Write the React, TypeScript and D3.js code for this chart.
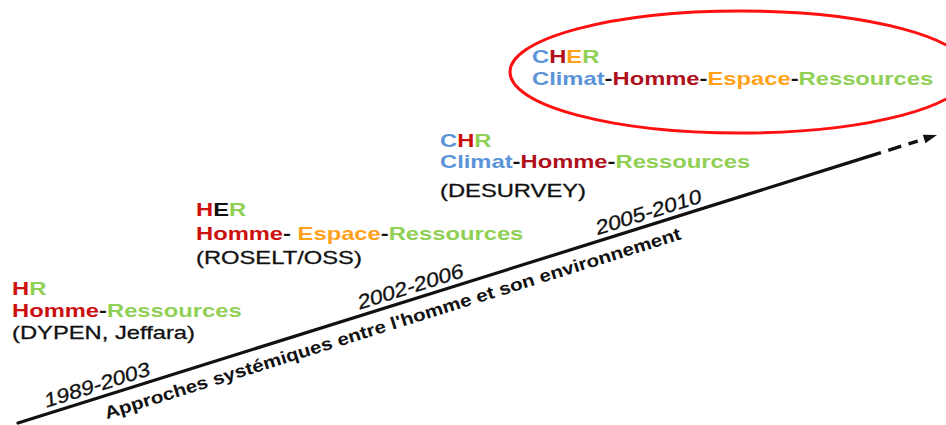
import * as d3 from "d3";

// Approaches along the time arrow
const periods = ["1989-2003", "2002-2006", "2005-2010"];
const acronyms = ["HR", "HER", "CHR", "CHER"];
const components = [
  ["Homme", "Ressources"],
  ["Homme", "Espace", "Ressources"],
  ["Climat", "Homme", "Ressources"],
  ["Climat", "Homme", "Espace", "Ressources"],
];
const separators = [["-"], ["- ", "-"], ["-", "-"], ["-", "-", "-"]];
const projects = ["(DYPEN, Jeffara)", "(ROSELT/OSS)", "(DESURVEY)", ""];
const axisLabel = "Approches systémiques entre l'homme et son environnement";

const colorOf: Record<string, string> = {
  C: "#5b93d8",
  H: "#cc1010",
  E: "#ffa21a",
  R: "#8fd055",
};
const darkRed = "#b0101c";

// layout
const W = 946;
const H = 425;
const FONT = "'Liberation Sans', Arial, sans-serif";
const start = [18, 423];
const tip = [937, 135];
const blocks = [
  { x: 12, y: 295, gaps: [22, 22] },
  { x: 196, y: 216, gaps: [24, 24] },
  { x: 440, y: 147, gaps: [21, 29] },
  { x: 532, y: 63, gaps: [22, 0] },
];
const periodT = [0.033, 0.374, 0.633];
const solidEnd = 0.925;
const dashes = [
  [0.925, 0.939],
  [0.947, 0.961],
  [0.969, 0.979],
];

export default function App() {
  const xs = d3.scaleLinear().domain([0, 1]).range([start[0], tip[0]]);
  const ys = d3.scaleLinear().domain([0, 1]).range([start[1], tip[1]]);
  const len = Math.hypot(tip[0] - start[0], tip[1] - start[1]);
  const angle = (Math.atan2(tip[1] - start[1], tip[0] - start[0]) * 180) / Math.PI;
  const nx = -(tip[1] - start[1]) / len; // normal pointing below the line
  const ny = (tip[0] - start[0]) / len;
  const line = d3
    .line<number>()
    .x((t) => xs(t))
    .y((t) => ys(t));

  const headBase = 0.986;
  const hx = xs(headBase);
  const hy = ys(headBase);
  const head = `M${xs(1)},${ys(1)} L${hx + nx * 4.5},${hy + ny * 4.5} L${hx - nx * 4.5},${hy - ny * 4.5} Z`;

  const letterColor = (i: number, ch: string) => {
    if (i === 1 && ch === "E") return "#111";
    if (i === 3 && ch === "H") return darkRed;
    return colorOf[ch];
  };
  const compColor = (i: number, c: string) => {
    if (i >= 2 && c === "Homme") return darkRed;
    return colorOf[c[0]];
  };

  const apT = 0.089;
  const apOff = 23;

  return (
    <svg
      width={W}
      height={H}
      style={{ position: "absolute", left: 0, top: 0, background: "#fff" }}
      fontFamily={FONT}
    >
      {/* highlight ellipse */}
      <ellipse cx={740} cy={72} rx={230} ry={61} fill="none" stroke="#ff1010" strokeWidth={3} />

      {/* arrow */}
      <path d={line([0, solidEnd]) || ""} stroke="#111" strokeWidth={3.2} fill="none" strokeLinecap="round" />
      {dashes.map((d, i) => (
        <path key={i} d={line(d) || ""} stroke="#111" strokeWidth={3.4} fill="none" />
      ))}
      <path d={head} fill="#111" />

      {/* period labels */}
      {periods.map((p, i) => {
        const t = periodT[i];
        const x = xs(t) - nx * 6;
        const y = ys(t) - ny * 6;
        return (
          <text
            key={p}
            transform={`translate(${x},${y}) rotate(${angle})`}
            fontSize={20}
            fontStyle="italic"
            fill="#111"
            stroke="#111"
            strokeWidth={0.3}
            textLength={110}
            lengthAdjust="spacingAndGlyphs"
          >
            {p}
          </text>
        );
      })}

      {/* axis caption */}
      <text
        transform={`translate(${xs(apT) + nx * apOff},${ys(apT) + ny * apOff}) rotate(${angle})`}
        fontSize={17.5}
        fontWeight="bold"
        fill="#111"
        textLength={603}
        lengthAdjust="spacingAndGlyphs"
      >
        {axisLabel}
      </text>

      {/* approach blocks */}
      {acronyms.map((a, i) => {
        const b = blocks[i];
        return (
          <g key={a} transform={`translate(${b.x},${b.y}) scale(1.25,1)`} fontSize={19}>
            <text fontWeight="bold">
              {a.split("").map((ch, j) => (
                <tspan key={j} fill={letterColor(i, ch)}>
                  {ch}
                </tspan>
              ))}
            </text>
            <text y={b.gaps[0]} fontWeight="bold">
              {components[i].map((c, j) => (
                <tspan key={j}>
                  <tspan fill={compColor(i, c)}>{c}</tspan>
                  {j < separators[i].length && <tspan fill="#111">{separators[i][j]}</tspan>}
                </tspan>
              ))}
            </text>
            {projects[i] && (
              <text y={b.gaps[0] + b.gaps[1]} fill="#111" stroke="#111" strokeWidth={0.3}>
                {projects[i]}
              </text>
            )}
          </g>
        );
      })}
    </svg>
  );
}
